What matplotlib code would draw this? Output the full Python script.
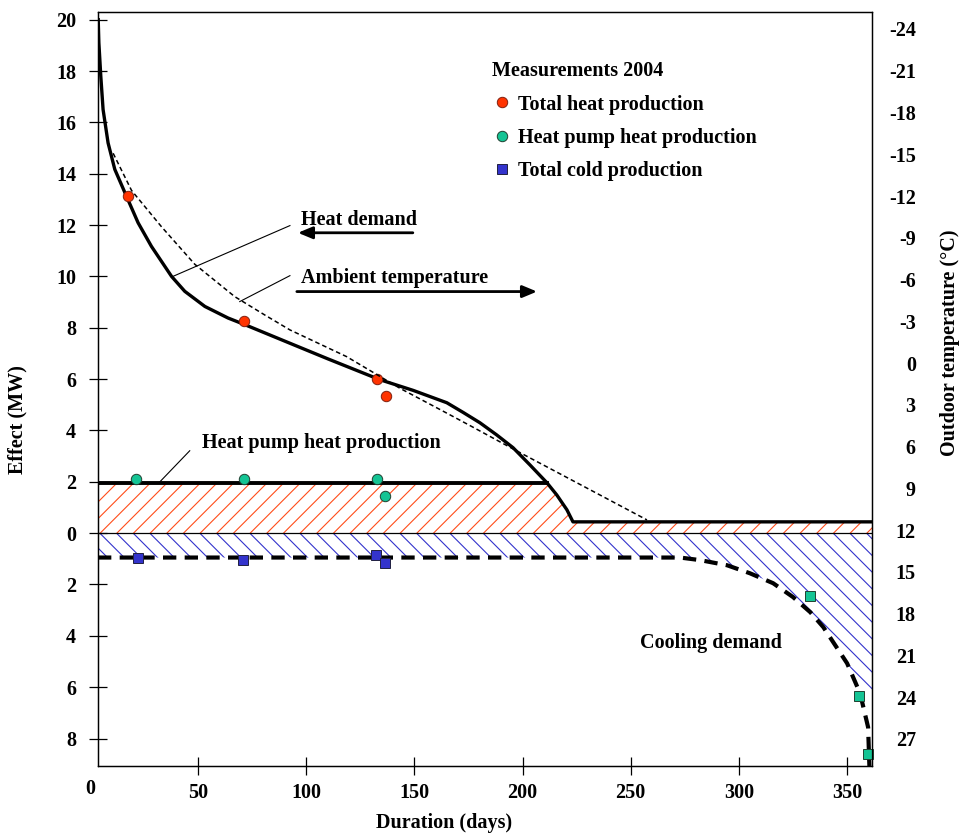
import numpy as np
import matplotlib
matplotlib.use("Agg")
import matplotlib.pyplot as plt
from matplotlib.lines import Line2D
from matplotlib.ticker import FuncFormatter

# heat demand duration curve (days, MW)
hd_days = [3.9, 4.2, 5.09, 6.15, 8.46, 11.56, 16.97, 22.33, 28.5, 37.8, 43.9, 53.2, 63.9,
           71.7, 80.9, 95, 110, 134, 149.5, 165, 172.6, 180.3, 188, 195.6, 203.4,
           211.3, 215.8, 220.5, 223.3, 361.5]
hd_mw = [20.0, 19.1, 17.8, 16.5, 15.2, 14.17, 13.12, 12.09, 11.17, 10.0, 9.42, 8.83, 8.38,
         8.12, 7.8, 7.31, 6.79, 5.98, 5.56, 5.08, 4.70, 4.3, 3.83, 3.33, 2.66,
         1.96, 1.49, 0.91, 0.44, 0.44]

# heat pump capacity
hp_level = 1.95
hp_end = 211.3

# ambient temperature (days, degC)
amb_days = [10.8, 19.3, 33.1, 48.5, 67, 80.9, 92.5, 118.7, 143.3, 165, 177, 195.6, 257.5]
amb_temp = [-15.07, -12.4, -9.8, -7.1, -4.77, -3.45, -2.38, -0.46, 1.81, 3.6, 4.6, 6.17, 11.27]

# cooling demand (days, MW, negative = cold)
cool_days = [3.8, 272.8, 282, 294.5, 305, 315.8, 325, 333, 339, 350, 356, 359.7, 360.2, 360.3]
cool_mw = [-0.95, -0.95, -1.05, -1.25, -1.56, -1.95, -2.49, -3.08, -3.66, -5.07, -6.24, -7.56, -8.85, -9.07]
cold_cap_day = 361.5
cold_cap_mw = -6.5

# measurements 2004
tot_heat_d = [17.7, 71.3, 132.8, 136.7]
tot_heat_mw = [13.12, 8.25, 6.0, 5.33]
hp_heat_d = [21.3, 71.2, 132.8, 136.5]
hp_heat_mw = [2.1, 2.1, 2.1, 1.45]
cold_d = [22.3, 70.9, 132.2, 136.5]
cold_mw = [-0.95, -1.04, -0.85, -1.15]
cold2_d = [332.9, 355.7, 359.8]
cold2_mw = [-2.43, -6.33, -8.6]

plt.rcParams['font.family'] = ['Liberation Serif', 'DejaVu Serif']
plt.rcParams['font.weight'] = 'bold'
plt.rcParams['axes.labelweight'] = 'bold'
plt.rcParams['axes.unicode_minus'] = False
plt.rcParams['font.size'] = 14.5
plt.rcParams['hatch.linewidth'] = 0.8

fig = plt.figure(figsize=(9.61, 8.35), dpi=100)
ax = fig.add_axes([98/961, 1-766/835, (872-98)/961, (766-12)/835])

xmin, xmax = 3.8, 361.5
ax.set_xlim(xmin, xmax)
ax.set_ylim(-9.07, 20.3)

# hatched areas
hd_x = np.array(hd_days)
ax.fill_between(hd_x, 0, np.minimum(np.array(hd_mw), hp_level), facecolor='none',
                edgecolor='#ff4d1a', hatch='//', linewidth=0)
cd = np.array(cool_days)
cm = np.array(cool_mw)
keep = cd <= 350
cold_x = np.append(cd[keep], cold_cap_day)
cold_y = np.append(cm[keep], cold_cap_mw)
ax.fill_between(cold_x, 0, cold_y, facecolor='none',
                edgecolor='#3333cc', hatch='\\\\', linewidth=0)

ax.axhline(0, color='black', lw=0.9)
ax.plot(hd_days, hd_mw, color='black', lw=2.4, solid_joinstyle='round')
ax.plot([xmin, hp_end], [hp_level, hp_level], color='black', lw=2.8)
ax.plot(cool_days, cool_mw, color='black', lw=3, linestyle=(0, (3.2, 2.0)))

# ambient temperature on twin axis
ax2 = ax.twinx()
ax2.set_ylim(28.95, -25.22)
ax2.plot(amb_days, amb_temp, color='black', lw=1.1, linestyle=(0, (3, 2)))
ax2.set_yticks(np.arange(-24, 28, 3))
ax2.tick_params(axis='y', length=0, pad=31.5)
for lbl in ax2.get_yticklabels():
    lbl.set_horizontalalignment('right')
ax2.set_ylabel('Outdoor temperature (\u00b0C)')
ax2.yaxis.set_label_coords(1.088, 0.561)

# markers
ms = 7.5
ax.plot(tot_heat_d, tot_heat_mw, 'o', ms=ms, mfc='#ff3300', mec='#802010', mew=0.7, zorder=5)
ax.plot(hp_heat_d, hp_heat_mw, 'o', ms=ms, mfc='#14c494', mec='#204030', mew=0.7, zorder=5)
ax.plot(cold_d, cold_mw, 's', ms=7.5, mfc='#3333cc', mec='#202040', mew=0.7, zorder=5)
ax.plot(cold2_d, cold2_mw, 's', ms=7.5, mfc='#14c494', mec='#204030', mew=0.7, zorder=5, clip_on=False)

# ticks
ax.set_yticks(np.arange(-8, 21, 2))
ax.yaxis.set_major_formatter(FuncFormatter(lambda v, p: f"{abs(v):.0f}"))
ax.set_xticks(np.arange(50, 351, 50))
ax.tick_params(axis='y', direction='inout', length=13.5, width=0.9, pad=9)
ax.tick_params(axis='x', direction='inout', length=13, width=0.9, pad=5.5)
ax.text(0, -0.0756 + 0.045, '0', transform=ax.get_xaxis_transform(), ha='center', va='center')
for s in ax.spines.values():
    s.set_linewidth(0.9)
for s in ax2.spines.values():
    s.set_linewidth(0.9)

ax.set_xlabel('Duration (days)')
ax.xaxis.set_label_coords(0.447, -0.0623)
ax.set_ylabel('Effect (MW)')
ax.yaxis.set_label_coords(-0.091, 0.459)

# annotations
ax.plot([38.4, 92.5], [10.0, 11.98], color='black', lw=0.8)
ax.plot([69.3, 92.5], [9.02, 10.03], color='black', lw=0.8)
ax.plot([32.4, 46.2], [2.0, 3.21], color='black', lw=0.8)
ax.text(97.5, 12.21, 'Heat demand', va='center', ha='left')
ax.text(97.5, 9.95, 'Ambient temperature', va='center', ha='left')
ax.text(51.8, 3.52, 'Heat pump heat production', va='center', ha='left')
ax.text(254.3, -4.27, 'Cooling demand', va='center', ha='left')
arrow = dict(arrowstyle='-|>,head_length=0.6,head_width=0.25', color='black', lw=2, shrinkA=0, shrinkB=0)
ax.annotate('', xy=(96.2, 11.70), xytext=(149.3, 11.70), arrowprops=arrow)
ax.annotate('', xy=(206.7, 9.41), xytext=(95.7, 9.41), arrowprops=arrow)

handles = [Line2D([], [], ls='none', marker='o', ms=ms, mfc='#ff3300', mec='#802010', mew=0.7),
           Line2D([], [], ls='none', marker='o', ms=ms, mfc='#14c494', mec='#204030', mew=0.7),
           Line2D([], [], ls='none', marker='s', ms=7, mfc='#3333cc', mec='#202040', mew=0.7)]
leg = ax.legend(handles, ['Total heat production', 'Heat pump heat production', 'Total cold production'],
                title='Measurements 2004', loc='upper left', bbox_to_anchor=(0.509, 0.935),
                frameon=False, borderpad=0, handlelength=1.0, handletextpad=0.3,
                labelspacing=0.67, alignment='left', borderaxespad=0)
leg.get_title().set_fontweight('bold')
leg.get_title().set_fontsize(14.5)

fig.savefig('out.png', dpi=100)
